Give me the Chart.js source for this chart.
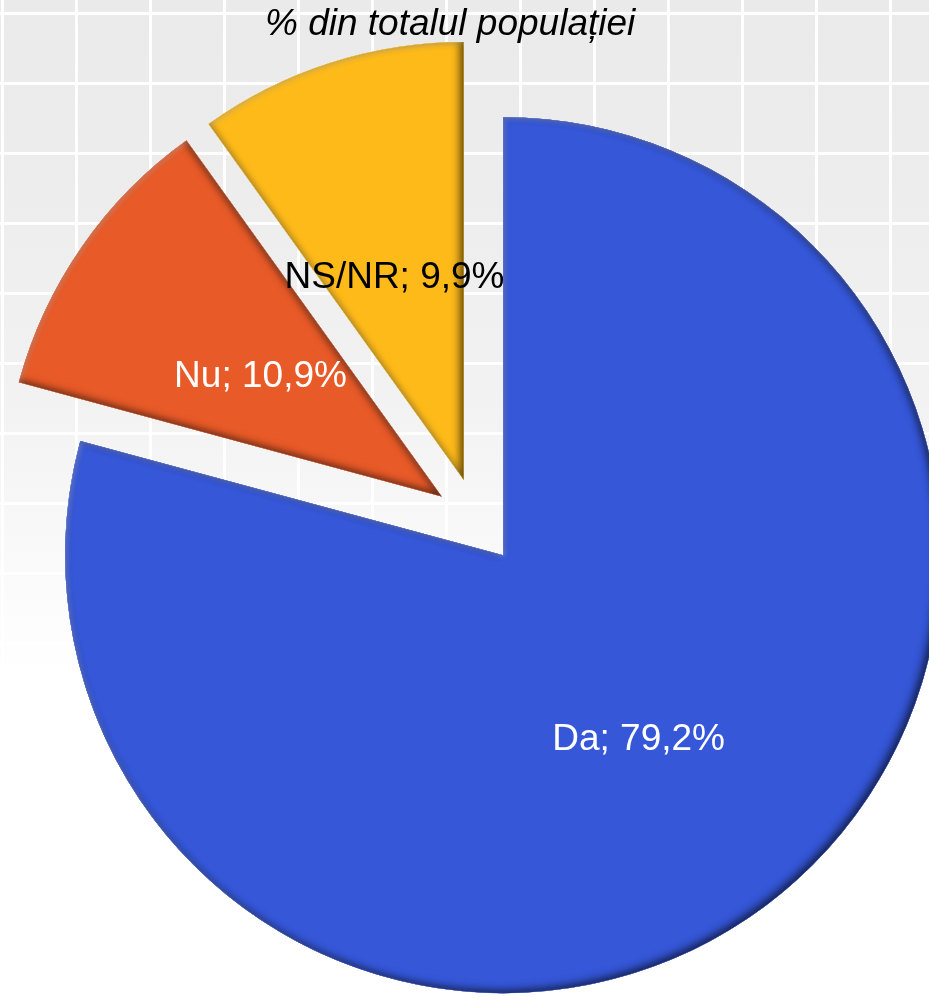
<!DOCTYPE html>
<html><head><meta charset="utf-8">
<script src="https://cdn.jsdelivr.net/npm/chart.js@4.4.1/dist/chart.umd.min.js"></script>
<style>
html,body{margin:0;padding:0;background:#fff;}
#wrap{position:relative;width:929px;height:999px;overflow:hidden;
background-color:#fff;
background-image:
 linear-gradient(to right, rgba(255,255,255,0.95) 0 3px, transparent 3px),
 linear-gradient(to bottom, rgba(255,255,255,0.95) 0 3px, transparent 3px),
 linear-gradient(to bottom, #eaeaea 0%, #ededed 20%, #f2f2f2 40%, #f9f9f9 55%, #ffffff 68%);
background-size: 74px 100%, 100% 70px, 100% 100%;
background-position: 1px 0, 0 12px, 0 0;
background-repeat: repeat-x, repeat-y, no-repeat;
}
</style></head>
<body><div id="wrap"><canvas id="c"></canvas></div>
<script>
const categories = ['Da', 'Nu', 'NS/NR'];
const values = [79.2, 10.9, 9.9];
const sliceColors = ['#3557d8', '#e85a28', '#fdba19'];
const labelColors = ['#ffffff', '#ffffff', '#000000'];
const titleText = '% din totalul populației';

const EXPLODE = 43;
const RADIUS = 438;

// explode every slice outward from the pie centre along its mid-angle
const explode = {
  id: 'explode',
  afterDatasetsUpdate(chart) {
    const ca = chart.chartArea;
    const cx = (ca.left + ca.right) / 2, cy = (ca.top + ca.bottom) / 2;
    chart.getDatasetMeta(0).data.forEach(arc => {
      const h = (arc.startAngle + arc.endAngle) / 2;
      arc.x = cx + Math.cos(h) * EXPLODE;
      arc.y = cy + Math.sin(h) * EXPLODE;
      arc.outerRadius = RADIUS;
    });
  }
};

// inner bevel shading of each slice, built from the arc elements
const bevel = {
  id: 'bevel',
  afterDatasetsDraw(chart) {
    const ctx = chart.ctx;
    chart.getDatasetMeta(0).data.forEach(arc => {
      const p = new Path2D();
      p.moveTo(arc.x, arc.y);
      p.arc(arc.x, arc.y, arc.outerRadius, arc.startAngle, arc.endAngle);
      p.closePath();
      const outside = new Path2D();
      outside.rect(-3000, -3000, 7000, 7000);
      outside.addPath(p);
      ctx.save();
      ctx.clip(p);
      ctx.fillStyle = arc.options.backgroundColor;
      ctx.shadowColor = 'rgba(0,0,0,0.30)';
      ctx.shadowBlur = 7; ctx.shadowOffsetX = 0; ctx.shadowOffsetY = 0;
      ctx.fill(outside, 'evenodd');
      ctx.shadowColor = 'rgba(0,0,0,0.55)';
      ctx.shadowBlur = 8; ctx.shadowOffsetX = -4; ctx.shadowOffsetY = -3;
      ctx.fill(outside, 'evenodd');
      ctx.shadowColor = 'rgba(255,255,255,0.25)';
      ctx.shadowBlur = 5; ctx.shadowOffsetX = 2; ctx.shadowOffsetY = 2;
      ctx.fill(outside, 'evenodd');
      ctx.restore();
    });
  }
};

const sliceLabels = {
  id: 'sliceLabels',
  afterDatasetsDraw(chart, args, opts) {
    const ctx = chart.ctx, meta = chart.getDatasetMeta(0);
    ctx.save();
    ctx.font = '37px "Liberation Sans", Arial, sans-serif';
    ctx.textAlign = 'center'; ctx.textBaseline = 'middle';
    meta.data.forEach((arc, i) => {
      const h = (arc.startAngle + arc.endAngle) / 2;
      const d = RADIUS * opts.frac[i];
      const x = arc.x + Math.cos(h) * d - 3, y = arc.y + Math.sin(h) * d + opts.dy;
      ctx.fillStyle = labelColors[i];
      const txt = categories[i] + '; ' + values[i].toFixed(1).replace('.', ',') + '%';
      ctx.fillText(txt, x, y);
    });
    ctx.restore();
  }
};

new Chart(document.getElementById('c'), {
  type: 'pie',
  data: {
    labels: categories,
    datasets: [{
      data: values,
      backgroundColor: sliceColors,
      borderWidth: 0,
      offset: 0,
      hoverOffset: 0
    }]
  },
  options: {
    responsive: true,
    maintainAspectRatio: false,
    animation: false,
    radius: RADIUS,
    layout: { padding: { left: 265, right: 240, top: 0, bottom: 4.4 } },
    plugins: {
      legend: { display: false },
      tooltip: { enabled: false },
      title: {
        display: true, text: titleText, align: 'start', color: '#000',
        padding: { top: 3, bottom: 0 },
        font: { family: '"Liberation Sans", Arial, sans-serif', size: 37, style: 'italic', weight: 'normal' }
      },
      sliceLabels: { frac: [0.52, 0.495, 0.495], dy: 4 }
    },
    events: []
  },
  plugins: [explode, bevel, sliceLabels]
});
</script>
</body></html>
